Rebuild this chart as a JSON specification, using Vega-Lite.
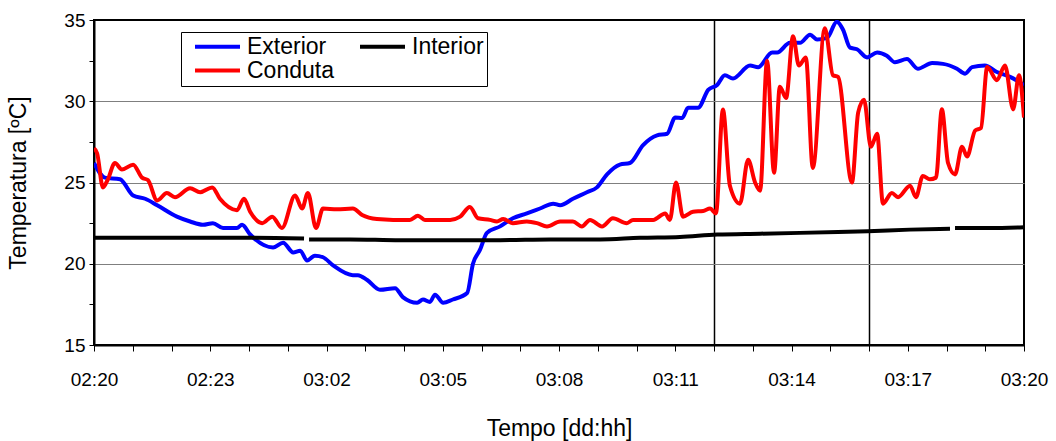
{
  "$schema": "https://vega.github.io/schema/vega-lite/v6.json",
  "width": 930,
  "height": 325,
  "autosize": {"type": "none"},
  "padding": {"left": 94, "top": 20, "right": 32, "bottom": 96},
  "background": "white",
  "config": {
    "view": {"stroke": "black", "strokeWidth": 2},
    "font": "Liberation Sans"
  },
  "data": {
    "values": [
      {"serie": "Exterior", "h": 0, "v": 26.2},
      {"serie": "Exterior", "h": 0.28, "v": 25.3},
      {"serie": "Exterior", "h": 0.67, "v": 25.2},
      {"serie": "Exterior", "h": 1.01, "v": 24.2},
      {"serie": "Exterior", "h": 1.32, "v": 24.0},
      {"serie": "Exterior", "h": 1.63, "v": 23.6},
      {"serie": "Exterior", "h": 2.14, "v": 22.9},
      {"serie": "Exterior", "h": 2.48, "v": 22.6},
      {"serie": "Exterior", "h": 2.81, "v": 22.4},
      {"serie": "Exterior", "h": 3.07, "v": 22.5},
      {"serie": "Exterior", "h": 3.33, "v": 22.2},
      {"serie": "Exterior", "h": 3.69, "v": 22.2},
      {"serie": "Exterior", "h": 3.82, "v": 22.4},
      {"serie": "Exterior", "h": 4.03, "v": 21.8},
      {"serie": "Exterior", "h": 4.62, "v": 21.0},
      {"serie": "Exterior", "h": 4.88, "v": 21.3},
      {"serie": "Exterior", "h": 5.14, "v": 20.7},
      {"serie": "Exterior", "h": 5.32, "v": 20.8},
      {"serie": "Exterior", "h": 5.5, "v": 20.2},
      {"serie": "Exterior", "h": 5.7, "v": 20.5},
      {"serie": "Exterior", "h": 5.91, "v": 20.4},
      {"serie": "Exterior", "h": 6.17, "v": 19.9},
      {"serie": "Exterior", "h": 6.68, "v": 19.3},
      {"serie": "Exterior", "h": 6.81, "v": 19.3},
      {"serie": "Exterior", "h": 7.05, "v": 19.0},
      {"serie": "Exterior", "h": 7.38, "v": 18.4},
      {"serie": "Exterior", "h": 7.77, "v": 18.5},
      {"serie": "Exterior", "h": 7.97, "v": 17.95},
      {"serie": "Exterior", "h": 8.34, "v": 17.6},
      {"serie": "Exterior", "h": 8.49, "v": 17.8},
      {"serie": "Exterior", "h": 8.67, "v": 17.65},
      {"serie": "Exterior", "h": 8.8, "v": 18.1},
      {"serie": "Exterior", "h": 9.01, "v": 17.6},
      {"serie": "Exterior", "h": 9.26, "v": 17.8},
      {"serie": "Exterior", "h": 9.63, "v": 18.2},
      {"serie": "Exterior", "h": 9.78, "v": 20.0},
      {"serie": "Exterior", "h": 9.96, "v": 20.85},
      {"serie": "Exterior", "h": 10.14, "v": 21.9},
      {"serie": "Exterior", "h": 10.48, "v": 22.3},
      {"serie": "Exterior", "h": 10.81, "v": 22.8},
      {"serie": "Exterior", "h": 11.17, "v": 23.1},
      {"serie": "Exterior", "h": 11.51, "v": 23.4},
      {"serie": "Exterior", "h": 11.85, "v": 23.7},
      {"serie": "Exterior", "h": 12.03, "v": 23.6},
      {"serie": "Exterior", "h": 12.36, "v": 24.0},
      {"serie": "Exterior", "h": 12.72, "v": 24.4},
      {"serie": "Exterior", "h": 12.98, "v": 24.7},
      {"serie": "Exterior", "h": 13.24, "v": 25.5},
      {"serie": "Exterior", "h": 13.57, "v": 26.1},
      {"serie": "Exterior", "h": 13.83, "v": 26.2},
      {"serie": "Exterior", "h": 14.17, "v": 27.3},
      {"serie": "Exterior", "h": 14.53, "v": 27.9},
      {"serie": "Exterior", "h": 14.79, "v": 28.0},
      {"serie": "Exterior", "h": 15.0, "v": 29.0},
      {"serie": "Exterior", "h": 15.18, "v": 28.97},
      {"serie": "Exterior", "h": 15.33, "v": 29.6},
      {"serie": "Exterior", "h": 15.59, "v": 29.6},
      {"serie": "Exterior", "h": 15.85, "v": 30.7},
      {"serie": "Exterior", "h": 16.08, "v": 31.0},
      {"serie": "Exterior", "h": 16.28, "v": 31.6},
      {"serie": "Exterior", "h": 16.49, "v": 31.4},
      {"serie": "Exterior", "h": 16.93, "v": 32.2},
      {"serie": "Exterior", "h": 17.14, "v": 32.1},
      {"serie": "Exterior", "h": 17.5, "v": 33.0},
      {"serie": "Exterior", "h": 17.63, "v": 33.0},
      {"serie": "Exterior", "h": 17.96, "v": 33.6},
      {"serie": "Exterior", "h": 18.22, "v": 33.6},
      {"serie": "Exterior", "h": 18.48, "v": 34.1},
      {"serie": "Exterior", "h": 18.66, "v": 33.8},
      {"serie": "Exterior", "h": 18.92, "v": 33.9},
      {"serie": "Exterior", "h": 19.17, "v": 34.9},
      {"serie": "Exterior", "h": 19.33, "v": 34.4},
      {"serie": "Exterior", "h": 19.51, "v": 33.3},
      {"serie": "Exterior", "h": 19.69, "v": 33.2},
      {"serie": "Exterior", "h": 19.95, "v": 32.7},
      {"serie": "Exterior", "h": 20.21, "v": 33.0},
      {"serie": "Exterior", "h": 20.46, "v": 32.8},
      {"serie": "Exterior", "h": 20.67, "v": 32.4},
      {"serie": "Exterior", "h": 20.98, "v": 32.6},
      {"serie": "Exterior", "h": 21.26, "v": 32.0},
      {"serie": "Exterior", "h": 21.63, "v": 32.35},
      {"serie": "Exterior", "h": 21.91, "v": 32.3},
      {"serie": "Exterior", "h": 22.27, "v": 32.0},
      {"serie": "Exterior", "h": 22.48, "v": 31.7},
      {"serie": "Exterior", "h": 22.66, "v": 32.1},
      {"serie": "Exterior", "h": 22.99, "v": 32.2},
      {"serie": "Exterior", "h": 23.3, "v": 31.8},
      {"serie": "Exterior", "h": 23.64, "v": 31.5},
      {"serie": "Exterior", "h": 24.0, "v": 31.0},

      {"serie": "Interior", "seg": "a", "h": 0, "v": 21.6},
      {"serie": "Interior", "seg": "a", "h": 1.45, "v": 21.6},
      {"serie": "Interior", "seg": "a", "h": 2.74, "v": 21.6},
      {"serie": "Interior", "seg": "a", "h": 4.03, "v": 21.6},
      {"serie": "Interior", "seg": "a", "h": 5.42, "v": 21.55},
      {"serie": "Interior", "seg": "b", "h": 5.55, "v": 21.5},
      {"serie": "Interior", "seg": "b", "h": 6.61, "v": 21.5},
      {"serie": "Interior", "seg": "b", "h": 7.9, "v": 21.45},
      {"serie": "Interior", "seg": "b", "h": 9.19, "v": 21.45},
      {"serie": "Interior", "seg": "b", "h": 10.48, "v": 21.45},
      {"serie": "Interior", "seg": "b", "h": 11.77, "v": 21.5},
      {"serie": "Interior", "seg": "b", "h": 13.06, "v": 21.5},
      {"serie": "Interior", "seg": "b", "h": 14.09, "v": 21.6},
      {"serie": "Interior", "seg": "b", "h": 15.12, "v": 21.65},
      {"serie": "Interior", "seg": "b", "h": 16.08, "v": 21.8},
      {"serie": "Interior", "seg": "b", "h": 17.19, "v": 21.85},
      {"serie": "Interior", "seg": "b", "h": 18.22, "v": 21.9},
      {"serie": "Interior", "seg": "b", "h": 19.2, "v": 21.95},
      {"serie": "Interior", "seg": "b", "h": 19.97, "v": 22.0},
      {"serie": "Interior", "seg": "b", "h": 21.06, "v": 22.1},
      {"serie": "Interior", "seg": "b", "h": 22.09, "v": 22.15},
      {"serie": "Interior", "seg": "c", "h": 22.22, "v": 22.2},
      {"serie": "Interior", "seg": "c", "h": 23.12, "v": 22.2},
      {"serie": "Interior", "seg": "c", "h": 24.0, "v": 22.25},

      {"serie": "Conduta", "h": 0, "v": 27.1},
      {"serie": "Conduta", "h": 0.08, "v": 26.8},
      {"serie": "Conduta", "h": 0.23, "v": 24.7},
      {"serie": "Conduta", "h": 0.36, "v": 25.2},
      {"serie": "Conduta", "h": 0.54, "v": 26.2},
      {"serie": "Conduta", "h": 0.72, "v": 25.8},
      {"serie": "Conduta", "h": 1.01, "v": 26.1},
      {"serie": "Conduta", "h": 1.24, "v": 25.3},
      {"serie": "Conduta", "h": 1.39, "v": 25.15},
      {"serie": "Conduta", "h": 1.63, "v": 23.9},
      {"serie": "Conduta", "h": 1.88, "v": 24.35},
      {"serie": "Conduta", "h": 2.09, "v": 24.1},
      {"serie": "Conduta", "h": 2.48, "v": 24.65},
      {"serie": "Conduta", "h": 2.74, "v": 24.4},
      {"serie": "Conduta", "h": 3.05, "v": 24.7},
      {"serie": "Conduta", "h": 3.25, "v": 24.0},
      {"serie": "Conduta", "h": 3.69, "v": 23.3},
      {"serie": "Conduta", "h": 3.87, "v": 24.0},
      {"serie": "Conduta", "h": 4.03, "v": 23.2},
      {"serie": "Conduta", "h": 4.34, "v": 22.5},
      {"serie": "Conduta", "h": 4.6, "v": 22.9},
      {"serie": "Conduta", "h": 4.85, "v": 22.2},
      {"serie": "Conduta", "h": 5.19, "v": 24.2},
      {"serie": "Conduta", "h": 5.37, "v": 23.4},
      {"serie": "Conduta", "h": 5.52, "v": 24.35},
      {"serie": "Conduta", "h": 5.73, "v": 22.2},
      {"serie": "Conduta", "h": 5.91, "v": 23.4},
      {"serie": "Conduta", "h": 6.27, "v": 23.35},
      {"serie": "Conduta", "h": 6.68, "v": 23.4},
      {"serie": "Conduta", "h": 6.92, "v": 23.0},
      {"serie": "Conduta", "h": 7.3, "v": 22.75},
      {"serie": "Conduta", "h": 7.72, "v": 22.7},
      {"serie": "Conduta", "h": 8.15, "v": 22.7},
      {"serie": "Conduta", "h": 8.36, "v": 22.95},
      {"serie": "Conduta", "h": 8.54, "v": 22.7},
      {"serie": "Conduta", "h": 9.19, "v": 22.7},
      {"serie": "Conduta", "h": 9.45, "v": 22.9},
      {"serie": "Conduta", "h": 9.7, "v": 23.5},
      {"serie": "Conduta", "h": 9.91, "v": 22.8},
      {"serie": "Conduta", "h": 10.22, "v": 22.7},
      {"serie": "Conduta", "h": 10.4, "v": 22.6},
      {"serie": "Conduta", "h": 10.56, "v": 22.75},
      {"serie": "Conduta", "h": 10.81, "v": 22.5},
      {"serie": "Conduta", "h": 11.17, "v": 22.6},
      {"serie": "Conduta", "h": 11.43, "v": 22.5},
      {"serie": "Conduta", "h": 11.69, "v": 22.3},
      {"serie": "Conduta", "h": 12.03, "v": 22.6},
      {"serie": "Conduta", "h": 12.36, "v": 22.6},
      {"serie": "Conduta", "h": 12.59, "v": 22.3},
      {"serie": "Conduta", "h": 12.8, "v": 22.7},
      {"serie": "Conduta", "h": 13.11, "v": 22.3},
      {"serie": "Conduta", "h": 13.39, "v": 22.8},
      {"serie": "Conduta", "h": 13.75, "v": 22.5},
      {"serie": "Conduta", "h": 13.91, "v": 22.7},
      {"serie": "Conduta", "h": 14.43, "v": 22.7},
      {"serie": "Conduta", "h": 14.74, "v": 23.1},
      {"serie": "Conduta", "h": 14.86, "v": 22.7},
      {"serie": "Conduta", "h": 15.02, "v": 25.0},
      {"serie": "Conduta", "h": 15.2, "v": 22.9},
      {"serie": "Conduta", "h": 15.46, "v": 23.2},
      {"serie": "Conduta", "h": 15.72, "v": 23.25},
      {"serie": "Conduta", "h": 15.9, "v": 23.4},
      {"serie": "Conduta", "h": 16.05, "v": 23.1},
      {"serie": "Conduta", "h": 16.23, "v": 29.5},
      {"serie": "Conduta", "h": 16.41, "v": 24.8},
      {"serie": "Conduta", "h": 16.67, "v": 23.7},
      {"serie": "Conduta", "h": 16.88, "v": 26.4},
      {"serie": "Conduta", "h": 17.06, "v": 25.0},
      {"serie": "Conduta", "h": 17.19, "v": 24.5},
      {"serie": "Conduta", "h": 17.37, "v": 32.5},
      {"serie": "Conduta", "h": 17.55, "v": 25.6},
      {"serie": "Conduta", "h": 17.7, "v": 30.9},
      {"serie": "Conduta", "h": 17.86, "v": 30.2},
      {"serie": "Conduta", "h": 18.04, "v": 34.0},
      {"serie": "Conduta", "h": 18.19, "v": 32.2},
      {"serie": "Conduta", "h": 18.37, "v": 32.7},
      {"serie": "Conduta", "h": 18.55, "v": 25.9},
      {"serie": "Conduta", "h": 18.86, "v": 34.5},
      {"serie": "Conduta", "h": 19.07, "v": 31.6},
      {"serie": "Conduta", "h": 19.2, "v": 31.5},
      {"serie": "Conduta", "h": 19.56, "v": 25.0},
      {"serie": "Conduta", "h": 19.72, "v": 29.3},
      {"serie": "Conduta", "h": 19.87, "v": 30.1},
      {"serie": "Conduta", "h": 20.05, "v": 27.2},
      {"serie": "Conduta", "h": 20.21, "v": 28.0},
      {"serie": "Conduta", "h": 20.36, "v": 23.7},
      {"serie": "Conduta", "h": 20.59, "v": 24.35},
      {"serie": "Conduta", "h": 20.75, "v": 24.1},
      {"serie": "Conduta", "h": 21.06, "v": 24.8},
      {"serie": "Conduta", "h": 21.21, "v": 24.1},
      {"serie": "Conduta", "h": 21.39, "v": 25.4},
      {"serie": "Conduta", "h": 21.57, "v": 25.2},
      {"serie": "Conduta", "h": 21.73, "v": 25.3},
      {"serie": "Conduta", "h": 21.88, "v": 29.5},
      {"serie": "Conduta", "h": 22.04, "v": 26.2},
      {"serie": "Conduta", "h": 22.22, "v": 25.5},
      {"serie": "Conduta", "h": 22.4, "v": 27.2},
      {"serie": "Conduta", "h": 22.53, "v": 26.6},
      {"serie": "Conduta", "h": 22.74, "v": 28.2},
      {"serie": "Conduta", "h": 22.89, "v": 28.35},
      {"serie": "Conduta", "h": 23.05, "v": 32.1},
      {"serie": "Conduta", "h": 23.3, "v": 31.3},
      {"serie": "Conduta", "h": 23.51, "v": 32.2},
      {"serie": "Conduta", "h": 23.72, "v": 29.5},
      {"serie": "Conduta", "h": 23.87, "v": 31.6},
      {"serie": "Conduta", "h": 24.0, "v": 29.0}
    ]
  },
  "mark": {"type": "line", "strokeWidth": 4, "interpolate": "monotone", "clip": true},
  "encoding": {
    "x": {
      "field": "h",
      "type": "quantitative",
      "scale": {"domain": [0, 24], "nice": false, "zero": false},
      "axis": {
        "values": [0,1,2,3,4,5,6,7,8,9,10,11,12,13,14,15,16,17,18,19,20,21,22,23,24],
        "labelExpr": "datum.value % 3 == 0 ? ['02:20','02:23','03:02','03:05','03:08','03:11','03:14','03:17','03:20'][datum.value / 3] : ''",
        "title": "Tempo [dd:hh]",
        "grid": true,
        "gridColor": "black",
        "gridWidth": 1.5,
        "gridOpacity": {"condition": {"test": "datum.value == 16 || datum.value == 20", "value": 1}, "value": 0},
        "domainColor": "black",
        "domainWidth": 2,
        "tickColor": "black",
        "tickSize": 6,
        "tickWidth": 1,
        "labelColor": "black",
        "labelFont": "Liberation Sans",
        "labelFontSize": 19,
        "labelPadding": 19,
        "labelFlush": false,
        "labelOverlap": false,
        "titleFont": "Liberation Sans",
        "titleFontSize": 23,
        "titleFontWeight": "normal",
        "titleColor": "black",
        "titlePadding": 28
      }
    },
    "y": {
      "field": "v",
      "type": "quantitative",
      "scale": {"domain": [15, 35], "nice": false, "zero": false},
      "axis": {
        "values": [15, 17.5, 20, 22.5, 25, 27.5, 30, 32.5, 35],
        "labelExpr": "datum.value % 5 == 0 ? datum.label : ''",
        "title": "Temperatura [ºC]",
        "grid": true,
        "gridColor": "#7f7f7f",
        "gridWidth": 1,
        "gridOpacity": {"condition": {"test": "datum.value == 20 || datum.value == 25 || datum.value == 30", "value": 1}, "value": 0},
        "domainColor": "black",
        "domainWidth": 2,
        "tickColor": "black",
        "tickSize": 5,
        "labelColor": "black",
        "labelFont": "Liberation Sans",
        "labelFontSize": 19,
        "labelPadding": 4,
        "labelOverlap": false,
        "titleFont": "Liberation Sans",
        "titleFontSize": 23,
        "titleFontWeight": "normal",
        "titleColor": "black",
        "titlePadding": 33
      }
    },
    "color": {
      "field": "serie",
      "type": "nominal",
      "scale": {"domain": ["Exterior", "Interior", "Conduta"], "range": ["#0000ff", "#000000", "#ff0000"]},
      "legend": {
        "title": null,
        "orient": "none",
        "legendX": 87,
        "legendY": 12,
        "direction": "horizontal",
        "columns": 2,
        "gridAlign": "all",
        "symbolType": "M-1,0L5,0",
        "symbolSize": 225,
        "symbolStrokeWidth": 4,
        "symbolOffset": 7,
        "labelFont": "Liberation Sans",
        "labelFontSize": 23,
        "labelColor": "black",
        "labelOffset": 33,
        "columnPadding": 15,
        "rowPadding": -3,
        "strokeColor": "black",
        "fillColor": "white",
        "padding": 3
      }
    },
    "detail": {"field": "seg", "type": "nominal"}
  }
}
